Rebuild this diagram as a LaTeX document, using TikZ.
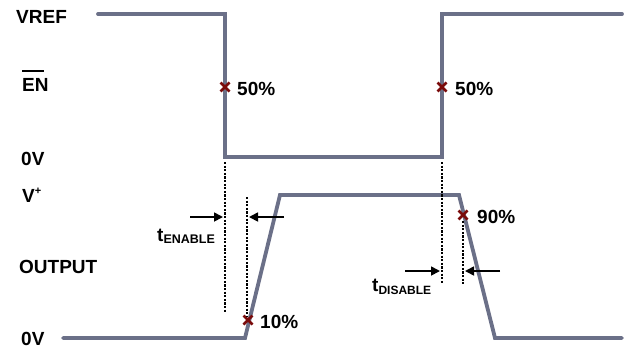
\documentclass[tikz,border=0pt]{standalone}
\usepackage{fontspec}
\setmainfont{Liberation Sans}
\usetikzlibrary{arrows.meta}
\definecolor{wavec}{HTML}{6B7088}
\definecolor{markc}{HTML}{7A0A0A}
\begin{document}
\begin{tikzpicture}[x=1pt,y=-1pt,
  wave/.style={draw=wavec,line width=3.8pt,line cap=round,line join=miter},
  lbl/.style={font=\fontsize{19}{21}\selectfont\bfseries,inner sep=0pt,anchor=base west},
  timing/.style={draw=black,line width=1.2pt,dash pattern=on 2.2pt off 1.4pt},
  meas/.style={draw=black,line width=1.7pt,-{Triangle[length=9pt,width=9pt]}},
  xmark/.style={draw=markc,line width=2.8pt}]
\useasboundingbox (0,0) rectangle (628,351);
% input waveform
\coordinate (a0) at (98,14);
\coordinate (a1) at (225,14);
\coordinate (a2) at (225,157);
\coordinate (a3) at (442,157);
\coordinate (a4) at (442,14);
\coordinate (a5) at (622,14);
\draw[wave] (a0) -- (a1) -- (a2) -- (a3) -- (a4) -- (a5);
% output waveform
\coordinate (b0) at (63,338);
\coordinate (b1) at (245,338);
\coordinate (b2) at (280,195);
\coordinate (b3) at (459,195);
\coordinate (b4) at (495,338);
\coordinate (b5) at (622,338);
\draw[wave] (b0) -- (b1) -- (b2) -- (b3) -- (b4) -- (b5);
% markers
\coordinate (m1) at (225,87);
\coordinate (m2) at (442,87);
\coordinate (m3) at (248,320);
\coordinate (m4) at (463,215);
\foreach \m in {m1,m2,m3,m4}{
  \draw[xmark] ([shift={(-4.5,-4.5)}]\m) -- ([shift={(4.5,4.5)}]\m);
  \draw[xmark] ([shift={(-4.5,4.5)}]\m) -- ([shift={(4.5,-4.5)}]\m);
}
% dashed timing lines
\coordinate (d1t) at (225,162); \coordinate (d1b) at (225,313);
\coordinate (d2t) at (247,197); \coordinate (d2b) at (247,316);
\coordinate (d3t) at (442,162); \coordinate (d3b) at (442,284);
\coordinate (d4t) at (463,221); \coordinate (d4b) at (463,284);
\draw[timing] (d1t) -- (d1b);
\draw[timing] (d2t) -- (d2b);
\draw[timing] (d3t) -- (d3b);
\draw[timing] (d4t) -- (d4b);
% measurement arrows
\coordinate (e1s) at (190,217); \coordinate (e1e) at (223,217);
\coordinate (e2s) at (284,217); \coordinate (e2e) at (249,217);
\coordinate (f1s) at (405,271); \coordinate (f1e) at (440,271);
\coordinate (f2s) at (500,271); \coordinate (f2e) at (465,271);
\draw[meas] (e1s) -- (e1e);
\draw[meas] (e2s) -- (e2e);
\draw[meas] (f1s) -- (f1e);
\draw[meas] (f2s) -- (f2e);
% labels
\node[lbl] (vref) at (16,23) {VREF};
\node[lbl] (en) at (22,91) {\rlap{\raisebox{19pt}{\rule{22pt}{1.6pt}}}EN};
\node[lbl] (zv1) at (21,165) {0V};
\node[lbl] (vp) at (22,202) {V\raisebox{8pt}{\fontsize{11}{11}\selectfont +}};
\node[lbl] (out) at (19,273) {OUTPUT};
\node[lbl] (zv2) at (21,345) {0V};
\node[lbl] (p1) at (237,95) {50\%};
\node[lbl] (p2) at (455,95) {50\%};
\node[lbl] (p3) at (260,328) {10\%};
\node[lbl] (p4) at (477,223) {90\%};
\node[lbl] (ten) at (157,241) {t\raisebox{-2pt}{\fontsize{12.5}{12.5}\selectfont ENABLE}};
\node[lbl] (tdis) at (372,291) {t\raisebox{-3pt}{\fontsize{12}{12}\selectfont DISABLE}};
\end{tikzpicture}
\end{document}
